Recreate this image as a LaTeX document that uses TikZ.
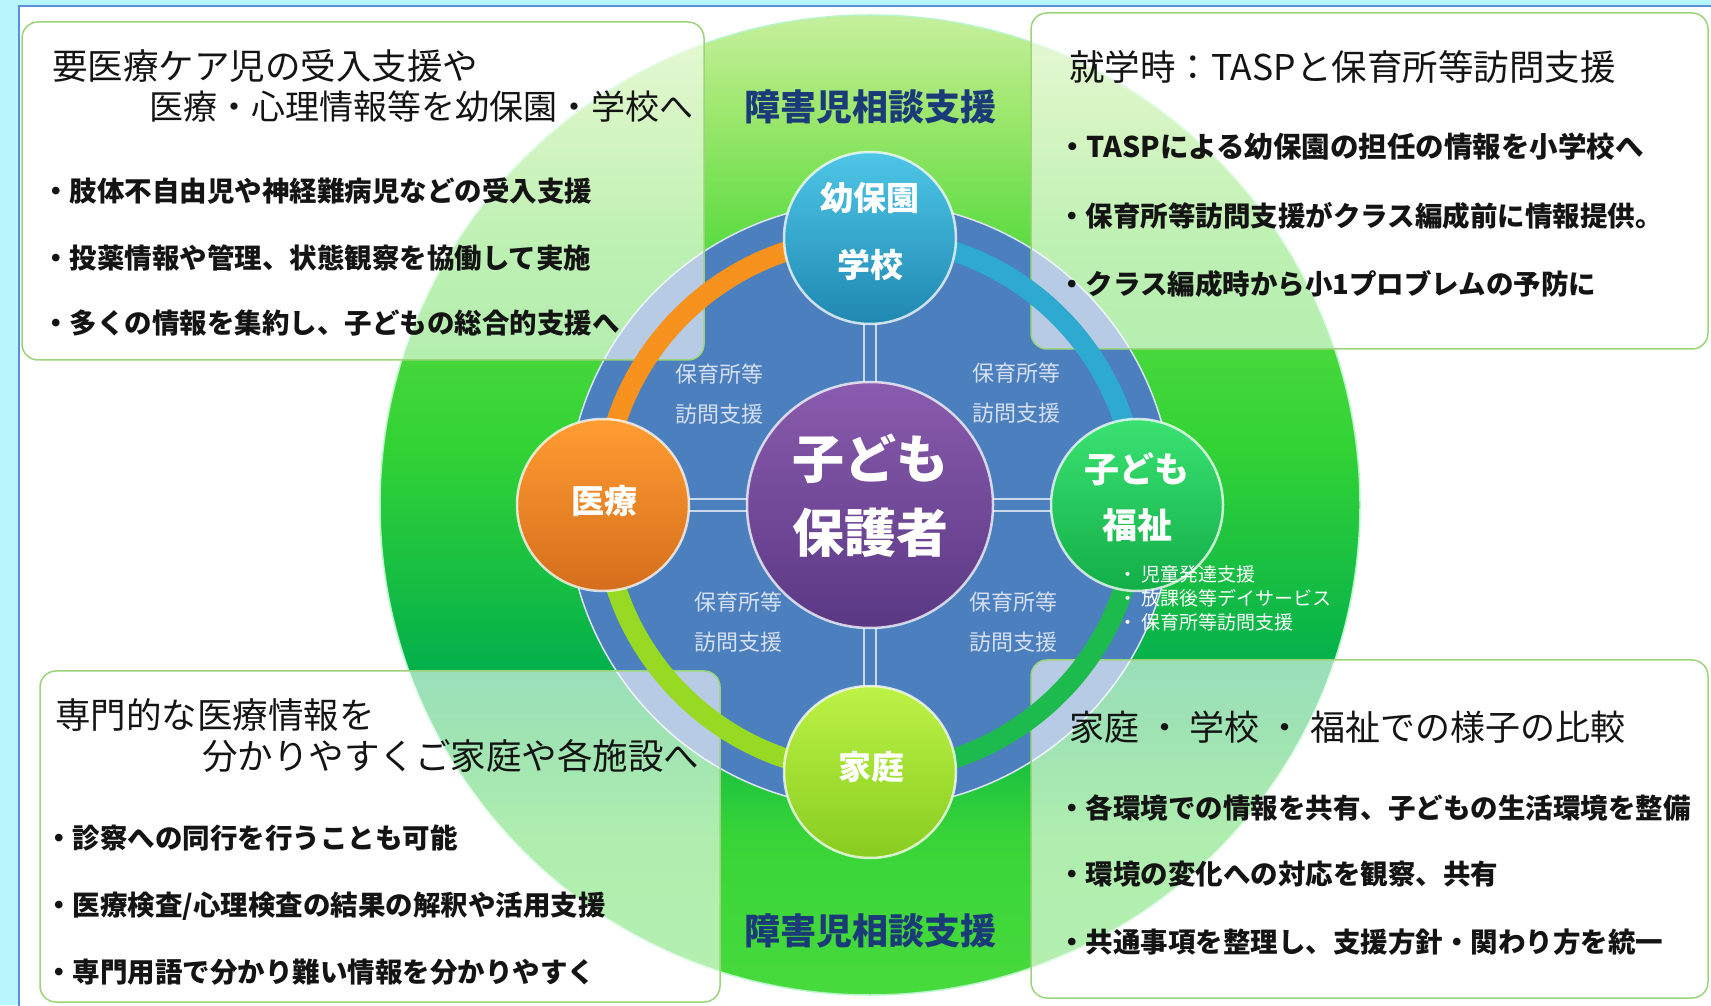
\documentclass[tikz,border=0pt]{standalone}
\usepackage{fontspec}
\setmainfont{Noto Sans CJK JP}
\definecolor{bgcyan}{HTML}{B6F6FC}
\definecolor{frameblue}{HTML}{5B8FD8}
\definecolor{gA}{HTML}{C8F0A0}
\definecolor{gB}{HTML}{A0E870}
\definecolor{gC}{HTML}{5CDC42}
\definecolor{gD}{HTML}{33D335}
\definecolor{gE}{HTML}{02AF4C}
\definecolor{gF}{HTML}{18C040}
\definecolor{gG}{HTML}{38D538}
\definecolor{gH}{HTML}{48DA3C}
\definecolor{gedge}{HTML}{B8F5C8}
\definecolor{diskblue}{HTML}{4B7FBE}
\definecolor{crosslight}{HTML}{CAD8EE}
\definecolor{boxedge}{HTML}{9CD47C}
\definecolor{textdark}{HTML}{141414}
\definecolor{navy}{HTML}{1A3A78}
\definecolor{lbl}{HTML}{D6E0F2}
\definecolor{arcorange}{HTML}{F7921E}
\definecolor{arccyan}{HTML}{2EA9D0}
\definecolor{arcgreen}{HTML}{1DBB4E}
\definecolor{arclime}{HTML}{97D923}
\definecolor{schoolTop}{HTML}{4EC6E6}
\definecolor{schoolBot}{HTML}{1F88B2}
\definecolor{medTop}{HTML}{FF9C32}
\definecolor{medBot}{HTML}{D46E1C}
\definecolor{welTop}{HTML}{3AE272}
\definecolor{welBot}{HTML}{12AE48}
\definecolor{homeTop}{HTML}{BDF246}
\definecolor{homeBot}{HTML}{88CC20}
\definecolor{purpTop}{HTML}{8A5BAE}
\definecolor{purpBot}{HTML}{5A3884}
\tikzset{
  boxbg/.style={fill=white, fill opacity=0.6, draw=boxedge, draw opacity=1, line width=1.5pt, rounded corners=16pt},
  titletext/.style={anchor=west, inner sep=0pt, font=\fontsize{34}{40}\selectfont, text=textdark},
  bullettext/.style={anchor=west, inner sep=0pt, font=\bfseries\fontsize{27.5}{30}\selectfont, text=textdark},
  soudan/.style={inner sep=0pt, font=\bfseries\fontsize{36}{40}\selectfont, text=navy},
  hub/.style={circle, minimum size=172pt, inner sep=0pt, draw=white, draw opacity=0.75, line width=2.5pt},
  hubtext/.style={inner sep=0pt, text=white, align=center, font=\bfseries\fontsize{33}{67}\selectfont},
  smalllabel/.style={inner sep=0pt, align=center, text=lbl, font=\fontsize{22}{40}\selectfont},
  ringarc/.style={line width=20pt},
  gband/.style={shading=axis, draw=none}
}
\begin{document}
\begin{tikzpicture}[x=1pt,y=1pt]
\useasboundingbox (0,0) rectangle (1711,1005);
\fill[bgcyan] (0,0) rectangle (1711,1005);
\filldraw[fill=white, draw=frameblue, line width=1.5pt] (19,-10) rectangle (1725,999);

\coordinate (C) at (870,500);
% big green disk
\begin{scope}
\clip (C) circle (490);
\shade[gband, top color=gA, bottom color=gB] (370,899) rectangle (1370,995);
\shade[gband, top color=gB, bottom color=gC] (370,759) rectangle (1370,900);
\shade[gband, top color=gC, bottom color=gD] (370,559) rectangle (1370,760);
\shade[gband, top color=gD, bottom color=gE] (370,329) rectangle (1370,560);
\shade[gband, top color=gE, bottom color=gF] (370,249) rectangle (1370,330);
\shade[gband, top color=gF, bottom color=gG] (370,169) rectangle (1370,250);
\shade[gband, top color=gG, bottom color=gH] (370,5) rectangle (1370,170);
\end{scope}
\draw[gedge, line width=1.5pt] (C) circle (490);
% blue disk
\filldraw[fill=diskblue, draw=white!80!diskblue, line width=1.5pt] (C) circle (303);

% translucent boxes
\path[boxbg] (22,645) rectangle (704,983);
\path[boxbg] (1031,656) rectangle (1708,992);
\path[boxbg] (40,3) rectangle (720,334);
\path[boxbg] (1031,7) rectangle (1708,345);

% hub positions
\coordinate (pS) at (870,767);
\coordinate (pM) at (603,500);
\coordinate (pW) at (1137,500);
\coordinate (pH) at (870,233);

% cross lines
\draw[crosslight, line width=14pt] (pS) -- (pH);
\draw[crosslight, line width=14pt] (pM) -- (pW);
\draw[diskblue, line width=10pt] (pS) -- (pH);
\draw[diskblue, line width=10pt] (pM) -- (pW);

% ring arcs
\draw[ringarc, arcorange] (C) ++(90:267) arc[start angle=90, end angle=180, radius=267];
\draw[ringarc, arccyan] (C) ++(0:267) arc[start angle=0, end angle=90, radius=267];
\draw[ringarc, arcgreen] (C) ++(270:267) arc[start angle=270, end angle=360, radius=267];
\draw[ringarc, arclime] (C) ++(180:267) arc[start angle=180, end angle=270, radius=267];

% hubs
\node[hub, top color=purpTop, bottom color=purpBot, minimum size=246pt] (child) at (C) {};
\node[hub, top color=schoolTop, bottom color=schoolBot] (school) at (pS) {};
\node[hub, top color=medTop, bottom color=medBot] (medical) at (pM) {};
\node[hub, top color=welTop, bottom color=welBot] (welfare) at (pW) {};
\node[hub, top color=homeTop, bottom color=homeBot] (home) at (pH) {};

\node[hubtext, font=\bfseries\fontsize{52}{74}\selectfont] (childtext) at (870,509) {子ども\\保護者};
\node[hubtext] (schooltext) at (870,774) {幼保園\\学校};
\node[hubtext] (medtext) at (604,504) {医療};
\node[hubtext, font=\bfseries\fontsize{35}{56}\selectfont] (weltext) at (1137,508) {子ども\\福祉};
\node[hubtext] (hometext) at (871,238) {家庭};

% small labels
\node[smalllabel] (lTL) at (719,611) {保育所等\\訪問支援};
\node[smalllabel] (lTR) at (1016,612) {保育所等\\訪問支援};
\node[smalllabel] (lBL) at (738,383) {保育所等\\訪問支援};
\node[smalllabel] (lBR) at (1013,383) {保育所等\\訪問支援};
\node[anchor=west, inner sep=0pt, align=left, text=white, font=\fontsize{19}{24}\selectfont] (wlist) at (1118,407) {・ 児童発達支援\\・ 放課後等デイサービス\\・ 保育所等訪問支援};

% 障害児相談支援
\node[soudan] (sTop) at (870,898) {障害児相談支援};
\node[soudan] (sBot) at (870,74) {障害児相談支援};

% top-left box text
\node[titletext, font=\fontsize{35.5}{40}\selectfont] (tl1) at (52,939) {要医療ケア児の受入支援や};
\node[titletext] (tl2) at (149,898) {医療・心理情報等を幼保園・学校へ};
\node[bullettext] (tlb1) at (42,814) {・肢体不自由児や神経難病児などの受入支援};
\node[bullettext] (tlb2) at (42,747) {・投薬情報や管理、状態観察を協働して実施};
\node[bullettext] (tlb3) at (42,682) {・多くの情報を集約し、子どもの総合的支援へ};

% top-right box text
\node[titletext, font=\fontsize{35.5}{40}\selectfont] (tr1) at (1069,938) {就学時：TASPと保育所等訪問支援};
\node[bullettext, font=\bfseries\fontsize{28.5}{30}\selectfont] (trb1) at (1058,858) {・TASPによる幼保園の担任の情報を小学校へ};
\node[bullettext] (trb2) at (1058,789) {・保育所等訪問支援がクラス編成前に情報提供。};
\node[bullettext] (trb3) at (1058,721) {・クラス編成時から小1プロブレムの予防に};

% bottom-left box text
\node[titletext, font=\fontsize{35.5}{40}\selectfont] (bl1) at (55,290) {専門的な医療情報を};
\node[titletext, font=\fontsize{35.5}{40}\selectfont] (bl2) at (202,249) {分かりやすくご家庭や各施設へ};
\node[bullettext] (blb1) at (45,167) {・診察への同行を行うことも可能};
\node[bullettext] (blb2) at (45,99) {・医療検査/心理検査の結果の解釈や活用支援};
\node[bullettext] (blb3) at (45,33) {・専門用語で分かり難い情報を分かりやすく};

% bottom-right box text
\node[titletext, font=\fontsize{35}{40}\selectfont] (br1) at (1069,278) {家庭 ・ 学校 ・ 福祉での様子の比較};
\node[bullettext] (brb1) at (1058,197) {・各環境での情報を共有、子どもの生活環境を整備};
\node[bullettext] (brb2) at (1058,131) {・環境の変化への対応を観察、共有};
\node[bullettext] (brb3) at (1058,63) {・共通事項を整理し、支援方針・関わり方を統一};
\end{tikzpicture}
\end{document}
